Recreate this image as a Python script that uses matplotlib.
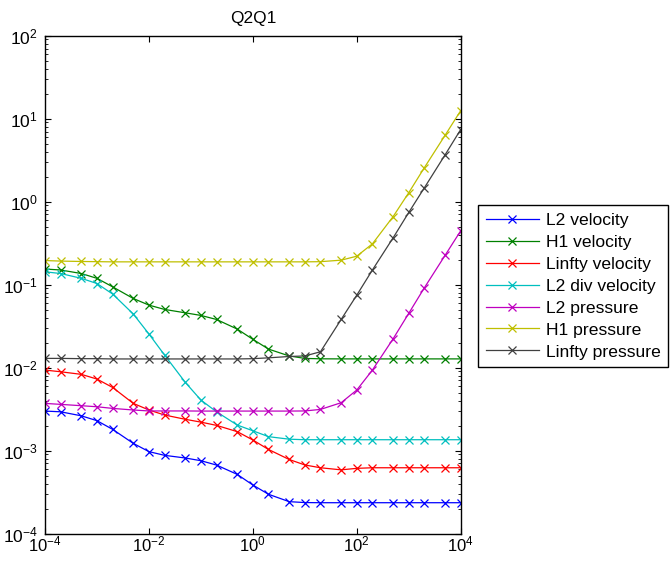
import numpy as np
import matplotlib
matplotlib.use("Agg")
import matplotlib.pyplot as plt
from matplotlib.ticker import LogLocator, NullLocator, LogFormatterMathtext

plt.rcParams['font.family'] = ['Liberation Sans', 'DejaVu Sans']
plt.rcParams['mathtext.fontset'] = 'custom'
plt.rcParams['mathtext.rm'] = 'Liberation Sans'
plt.rcParams['mathtext.it'] = 'Liberation Sans:italic'
plt.rcParams['mathtext.bf'] = 'Liberation Sans:bold'

# x values: 1, 2, 5 per decade from 1e-4 to 1e4
x = [1e-4, 2e-4, 5e-4, 1e-3, 2e-3, 5e-3, 1e-2, 2e-2, 5e-2, 1e-1, 2e-1, 5e-1,
     1e0, 2e0, 5e0, 1e1, 2e1, 5e1, 1e2, 2e2, 5e2, 1e3, 2e3, 5e3, 1e4]

l2_velocity = [0.00299, 0.00293, 0.00262, 0.00229, 0.00180, 0.00122, 0.00097,
               0.000875, 0.000813, 0.000754, 0.000668, 0.000516, 0.000384,
               0.000297, 0.000242, 0.000236, 0.000235, 0.000235, 0.000235,
               0.000235, 0.000235, 0.000235, 0.000235, 0.000235, 0.000235]
h1_velocity = [0.154, 0.150, 0.136, 0.119, 0.094, 0.068, 0.0566, 0.0502, 0.0457,
               0.0425, 0.038, 0.0291, 0.0219, 0.0167, 0.0138, 0.0129, 0.01275,
               0.01272, 0.01272, 0.01272, 0.01272, 0.01272, 0.01272, 0.01272, 0.01272]
linfty_velocity = [0.00933, 0.0089, 0.00828, 0.00727, 0.00576, 0.00370, 0.00308,
                   0.00268, 0.00238, 0.00220, 0.00201, 0.00169, 0.00134, 0.00103,
                   0.00078, 0.00067, 0.00062, 0.000585, 0.00061, 0.00062, 0.00062,
                   0.00062, 0.00062, 0.00062, 0.00062]
l2_div_velocity = [0.1426, 0.136, 0.119, 0.103, 0.077, 0.0442, 0.0254, 0.01415,
                   0.00664, 0.00406, 0.00293, 0.00203, 0.00173, 0.00147, 0.00137,
                   0.00135, 0.00135, 0.00135, 0.00135, 0.00135, 0.00135, 0.00135,
                   0.00135, 0.00135, 0.00135]
l2_pressure = [0.0037, 0.0036, 0.00347, 0.00337, 0.00322, 0.00308, 0.0030, 0.0030,
               0.0030, 0.00299, 0.00299, 0.00299, 0.00299, 0.00299, 0.00299,
               0.00300, 0.00313, 0.00377, 0.00536, 0.00933, 0.0222, 0.045, 0.0916,
               0.225, 0.445]
h1_pressure = [0.195, 0.192, 0.190, 0.189, 0.188, 0.188, 0.188, 0.188, 0.188, 0.188,
               0.188, 0.188, 0.188, 0.188, 0.188, 0.188, 0.189, 0.197, 0.22, 0.31,
               0.66, 1.28, 2.57, 6.3, 12.5]
linfty_pressure = [0.0129, 0.0129, 0.0128, 0.0128, 0.0127, 0.0127, 0.0127, 0.0127,
                   0.0127, 0.0127, 0.0127, 0.0127, 0.0128, 0.0131, 0.0136, 0.0138,
                   0.0155, 0.038, 0.0746, 0.15, 0.366, 0.74, 1.47, 3.66, 7.4]

series = [
    ("L2 velocity", l2_velocity, (0, 0, 1)),
    ("H1 velocity", h1_velocity, (0, 0.5, 0)),
    ("Linfty velocity", linfty_velocity, (1, 0, 0)),
    ("L2 div velocity", l2_div_velocity, (0, 0.75, 0.75)),
    ("L2 pressure", l2_pressure, (0.75, 0, 0.75)),
    ("H1 pressure", h1_pressure, (0.75, 0.75, 0)),
    ("Linfty pressure", linfty_pressure, (0.25, 0.25, 0.25)),
]

fig = plt.figure(figsize=(6.72, 5.64), dpi=100)
ax = fig.add_axes([45/672, 1 - 533.5/564, (460.7 - 45)/672, (533.5 - 35.7)/564])

for name, vals, col in series:
    ax.plot(x, vals, color=col, marker='x', markersize=6, linewidth=0.9,
            markeredgewidth=0.9, label=name)

ax.set_xscale('log')
ax.set_yscale('log')
ax.set_xlim(1e-4, 1e4)
ax.set_ylim(1e-4, 1e2)
ax.set_xticks([1e-4, 1e-2, 1e0, 1e2, 1e4])
ax.xaxis.set_minor_locator(NullLocator())
ax.yaxis.set_major_locator(LogLocator(base=10, numticks=20))
ax.yaxis.set_minor_locator(LogLocator(base=10, subs=np.arange(2, 10), numticks=20))
ax.xaxis.set_major_formatter(LogFormatterMathtext())
ax.yaxis.set_major_formatter(LogFormatterMathtext())
ax.tick_params(which='both', direction='in', top=True, right=True)
ax.tick_params(axis='x', labelsize=12, pad=0.5)
ax.tick_params(axis='y', labelsize=12.5, pad=5)
ax.tick_params(which='major', length=4, width=0.8)
ax.tick_params(which='minor', length=2.5, width=0.6)
for s in ax.spines.values():
    s.set_linewidth(1.0)

ax.set_title("Q2Q1", fontsize=12.4, pad=9)

leg = fig.legend(loc='upper left', bbox_to_anchor=(478.3/672, 1 - 205/564),
                 fontsize=12.6, handlelength=3.0, handletextpad=0.4,
                 borderpad=0.45, labelspacing=0.38, fancybox=False,
                 framealpha=1, edgecolor='black', borderaxespad=0)
leg.get_frame().set_linewidth(1.0)

fig.savefig("out.png", dpi=100)
